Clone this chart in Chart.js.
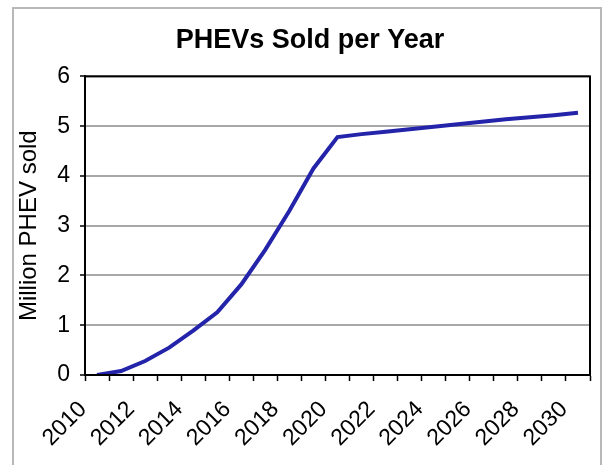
<!DOCTYPE html>
<html>
<head>
<meta charset="utf-8">
<script src="https://cdn.jsdelivr.net/npm/chart.js@4"></script>
<style>
  html, body { margin: 0; padding: 0; background: #ffffff; }
  #wrap { position: relative; width: 603px; height: 465px; }
</style>
</head>
<body>
<div id="wrap"><canvas id="c" width="603" height="465"></canvas></div>
<script>
// ---- data ----
const years = ['2010','2011','2012','2013','2014','2015','2016','2017','2018','2019','2020',
               '2021','2022','2023','2024','2025','2026','2027','2028','2029','2030'];
const phevSold = [0, 0.08, 0.28, 0.55, 0.89, 1.26, 1.82, 2.52, 3.3, 4.15, 4.78,
                  4.84, 4.89, 4.94, 4.99, 5.04, 5.09, 5.14, 5.18, 5.22, 5.27];
const yTicks = [0, 1, 2, 3, 4, 5, 6];
const chartTitle = 'PHEVs Sold per Year';
const yTitle = 'Million PHEV sold';

const FONT = '"Liberation Sans", Arial, sans-serif';

const framePlugin = {
  id: 'frame',
  afterLayout(chart) {
    // shift the title block so the title is centred like the original
    if (chart.titleBlock) { chart.titleBlock.left += 16; }
  },
  afterDraw(chart) {
    const ctx = chart.ctx;
    const a = chart.chartArea;
    ctx.save();
    // outer light frame (bottom edge lies outside the picture)
    ctx.strokeStyle = '#b8b8b8';
    ctx.lineWidth = 2;
    ctx.strokeRect(13, 8, 588, 470);
    // plot area border
    ctx.strokeStyle = '#000000';
    ctx.lineWidth = 2;
    ctx.strokeRect(a.left, a.top, a.right - a.left, a.bottom - a.top);
    ctx.restore();
  }
};

new Chart(document.getElementById('c'), {
  type: 'line',
  data: {
    labels: years,
    datasets: [{
      data: phevSold,
      borderColor: '#2424aa',
      borderWidth: 4,
      pointRadius: 0,
      tension: 0,
      fill: false
    }]
  },
  plugins: [framePlugin],
  options: {
    responsive: false,
    animation: false,
    devicePixelRatio: 1,
    layout: { padding: { left: 14, right: 13, top: 8, bottom: 2 } },
    plugins: {
      legend: { display: false },
      tooltip: { enabled: false },
      title: {
        display: true,
        text: chartTitle,
        color: '#000000',
        font: { family: FONT, size: 27, weight: 'bold' },
        padding: { top: 16, bottom: 20 }
      }
    },
    scales: {
      x: {
        type: 'category',
        offset: true,
        grid: {
          offset: true,
          drawOnChartArea: false,
          drawTicks: true,
          tickLength: 6,
          tickColor: '#000000',
          tickWidth: 1.5
        },
        border: { display: true, color: '#000000', width: 2 },
        ticks: {
          autoSkip: false,
          minRotation: 45,
          maxRotation: 45,
          color: '#000000',
          padding: 15,
          labelOffset: -14,
          font: { family: FONT, size: 23 },
          callback: function(v, i) { return (i % 2 === 0) ? this.getLabelForValue(v) : ''; }
        },
        afterFit(s) { s.height = 88; s.paddingLeft = 0; s.paddingRight = 0; }
      },
      y: {
        min: yTicks[0],
        max: yTicks[yTicks.length - 1],
        afterBuildTicks(s) { s.ticks = yTicks.map(v => ({ value: v })); },
        grid: {
          color: '#a8a8a8',
          lineWidth: 2,
          drawTicks: true,
          tickLength: 5,
          tickColor: '#000000',
          tickWidth: 1.5
        },
        border: { display: true, color: '#000000', width: 2 },
        ticks: {
          color: '#000000',
          padding: 10,
          font: { family: FONT, size: 23 }
        },
        title: {
          display: true,
          text: yTitle,
          color: '#000000',
          font: { family: FONT, size: 24 },
          padding: { top: 1, bottom: 0 }
        },
        afterFit(s) { s.width = 71; s.paddingTop = 0; s.paddingBottom = 0; }
      }
    }
  }
});
</script>
</body>
</html>
